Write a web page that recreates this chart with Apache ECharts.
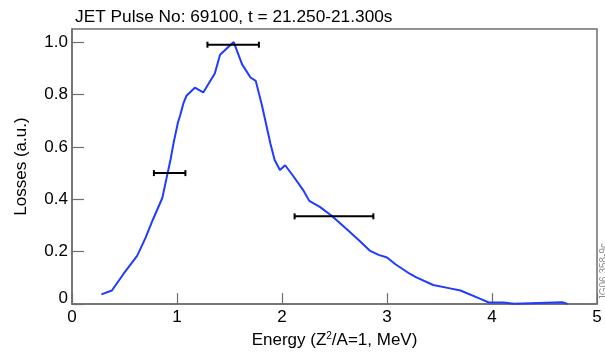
<!DOCTYPE html>
<html>
<head>
<meta charset="utf-8">
<script src="https://cdn.jsdelivr.net/npm/echarts@6/dist/echarts.min.js"></script>
<style>
  html, body { margin: 0; padding: 0; background: #fff; }
  #chart { width: 605px; height: 354px; }
</style>
</head>
<body>
<div id="chart"></div>
<script>
// Energy of the lost ions (MeV, Z^2/A = 1) and normalised losses
const energy = [0.28, 0.38, 0.49, 0.62, 0.70, 0.77, 0.86, 0.90, 0.94, 0.97,
                1.01, 1.03, 1.06, 1.09, 1.17, 1.25, 1.36, 1.41, 1.54, 1.62,
                1.70, 1.75, 1.81, 1.89, 1.93, 1.98, 2.03, 2.11, 2.20, 2.26,
                2.36, 2.47, 2.62, 2.74, 2.84, 2.92, 3.00, 3.08, 3.22, 3.28,
                3.44, 3.60, 3.70, 3.89, 3.97, 4.11, 4.12, 4.21, 4.22, 4.67,
                4.68, 4.72];
const losses = [0.037, 0.052, 0.115, 0.184, 0.253, 0.322, 0.405, 0.48, 0.555, 0.62,
                0.695, 0.72, 0.765, 0.795, 0.826, 0.808, 0.880, 0.952, 1.0, 0.915,
                0.865, 0.852, 0.757, 0.612, 0.55, 0.512, 0.530, 0.487, 0.436, 0.394,
                0.371, 0.338, 0.285, 0.241, 0.203, 0.188, 0.178, 0.152, 0.115, 0.102,
                0.073, 0.060, 0.052, 0.020, 0.006, 0.006, 0.001, 0.001, 0.007, 0.007,
                0.001, 0.001];

// Energy resolution bars: level and energy span
const errLevel = [0.5, 0.99, 0.335];
const errLow   = [0.78, 1.29, 2.12];
const errHigh  = [1.08, 1.78, 2.87];

// Axis ticks
const xTicks = [0, 1, 2, 3, 4, 5];
const yTicks = [0, 0.2, 0.4, 0.6, 0.8, 1.0];

const curve = energy.map((e, i) => [e, losses[i]]);
const bars = errLevel.map((v, i) => [errLow[i], errHigh[i], v]);

const axisGray = '#6e6e6e';
const font = 'Liberation Sans, Arial, Helvetica, sans-serif';

const chart = echarts.init(document.getElementById('chart'), null, { renderer: 'canvas' });
chart.setOption({
  animation: false,
  backgroundColor: '#ffffff',
  title: {
    text: 'JET Pulse No: 69100, t = 21.250-21.300s',
    left: 70, top: 4,
    textStyle: { fontFamily: font, fontSize: 17.3, fontWeight: 'normal', color: '#000' }
  },
  grid: {
    left: 72, right: 8, top: 29, bottom: 47,
    show: true, borderColor: axisGray, borderWidth: 1.5, backgroundColor: 'transparent'
  },
  xAxis: {
    type: 'value', min: 0, max: 5, interval: 1,
    name: 'Energy (Z{sup|2}/A=1, MeV)',
    nameLocation: 'middle', nameGap: 24,
    nameTextStyle: {
      fontFamily: font, fontSize: 17, color: '#000', verticalAlign: 'top',
      rich: { sup: { fontFamily: font, fontSize: 10, color: '#000', verticalAlign: 'top', padding: [0, 0, 9, 0] } }
    },
    axisLine: { show: true, lineStyle: { color: axisGray, width: 1.5 } },
    axisTick: { show: true, inside: true, length: 11, lineStyle: { color: axisGray, width: 1.2 } },
    axisLabel: {
      fontFamily: font, fontSize: 17, color: '#000', margin: 5,
      formatter: v => xTicks.includes(v) ? String(v) : ''
    },
    splitLine: { show: false }
  },
  yAxis: {
    type: 'value', min: 0, max: 1.05, interval: 0.2,
    name: 'Losses (a.u.)',
    nameLocation: 'middle', nameGap: 42, nameRotate: 90,
    nameTextStyle: { fontFamily: font, fontSize: 17, color: '#000' },
    axisLine: { show: true, lineStyle: { color: axisGray, width: 1.5 } },
    axisTick: { show: true, inside: true, length: 12, lineStyle: { color: axisGray, width: 1.2 } },
    axisLabel: {
      fontFamily: font, fontSize: 17, color: '#000', margin: 4,
      showMaxLabel: false,
      formatter: v => {
        const t = yTicks.find(k => Math.abs(k - v) < 1e-6);
        if (t === undefined) return '';
        return t === 0 ? '{z|0}' : t.toFixed(1);
      },
      rich: { z: { fontFamily: font, fontSize: 17, color: '#000', padding: [0, 0, 12, 0] } }
    },
    splitLine: { show: false }
  },
  graphic: [{
    type: 'text',
    left: 599, top: 243,
    rotation: Math.PI / 2,
    style: { text: 'JG06.358-9c', fill: '#8c8c8c', font: '10px ' + font }
  }],
  series: [
    {
      type: 'line',
      data: curve,
      showSymbol: false,
      smooth: false,
      lineStyle: { color: '#1f3cff', width: 2 },
      z: 2
    },
    {
      type: 'custom',
      data: bars,
      z: 3,
      renderItem: (params, api) => {
        const a = api.coord([api.value(0), api.value(2)]);
        const b = api.coord([api.value(1), api.value(2)]);
        const cap = 3;
        const st = { stroke: '#000', lineWidth: 2 };
        return {
          type: 'group',
          children: [
            { type: 'line', shape: { x1: a[0], y1: a[1], x2: b[0], y2: b[1] }, style: st },
            { type: 'line', shape: { x1: a[0], y1: a[1] - cap, x2: a[0], y2: a[1] + cap }, style: st },
            { type: 'line', shape: { x1: b[0], y1: b[1] - cap, x2: b[0], y2: b[1] + cap }, style: st }
          ]
        };
      }
    }
  ]
});
</script>
</body>
</html>
